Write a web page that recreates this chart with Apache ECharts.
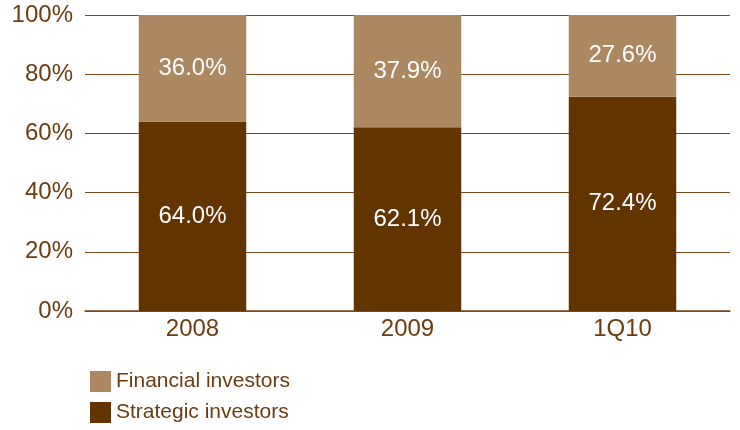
<!DOCTYPE html>
<html>
<head>
<meta charset="utf-8">
<script src="https://cdn.jsdelivr.net/npm/echarts@6/dist/echarts.min.js"></script>
<style>
  html, body { margin: 0; padding: 0; background: #ffffff; }
  #chart { width: 740px; height: 430px; }
</style>
</head>
<body>
<div id="chart"></div>
<script>
// Investor mix by period (share of deal value, %)
const categories = ['2008', '2009', '1Q10'];
const strategicInvestors = [64.0, 62.1, 72.4];
const financialInvestors = [36.0, 37.9, 27.6];
const yTicks = [0, 20, 40, 60, 80, 100];

const textColor = '#6b3d10';
const lineColor = '#7a4a1c';
const darkBrown = '#623400';
const lightBrown = '#ac8862';
const font = '"Liberation Sans", Arial, Helvetica, sans-serif';

const chart = echarts.init(document.getElementById('chart'));

const labelStyle = {
  show: true,
  position: 'inside',
  color: '#ffffff',
  fontSize: 24,
  fontFamily: font,
  padding: [4, 0, 0, 0],
  formatter: p => p.value.toFixed(1) + '%'
};

// One legend entry per row, stacked under the plot
function legendRow(name, top) {
  return {
    orient: 'vertical',
    left: 85,
    top: top,
    itemWidth: 21,
    itemHeight: 21,
    itemGap: 10,
    icon: 'rect',
    textStyle: { color: textColor, fontSize: 21, fontFamily: font },
    data: [name]
  };
}

chart.setOption({
  animation: false,
  grid: { left: 85, right: 10, top: 15, bottom: 119, containLabel: false },
  legend: [
    legendRow('Financial investors', 366),
    legendRow('Strategic investors', 397)
  ],
  xAxis: {
    type: 'category',
    data: categories,
    axisLine: { show: true, lineStyle: { color: lineColor, width: 1.5 } },
    axisTick: { show: false },
    axisLabel: { color: textColor, fontSize: 24, fontFamily: font, margin: 6 }
  },
  yAxis: {
    type: 'value',
    min: yTicks[0],
    max: yTicks[yTicks.length - 1],
    interval: 20,
    axisLine: { show: false },
    axisTick: { show: false },
    splitLine: { lineStyle: { color: lineColor, width: 1 } },
    axisLabel: {
      color: textColor, fontSize: 24, fontFamily: font, margin: 12,
      padding: [5, 0, 0, 0],
      formatter: v => v + '%'
    }
  },
  series: [
    {
      name: 'Strategic investors',
      type: 'bar',
      stack: 'total',
      barWidth: '50%',
      data: strategicInvestors,
      itemStyle: { color: darkBrown },
      label: labelStyle,
      z: 3
    },
    {
      name: 'Financial investors',
      type: 'bar',
      stack: 'total',
      barWidth: '50%',
      data: financialInvestors,
      itemStyle: { color: lightBrown },
      label: labelStyle,
      z: 3
    }
  ]
});
</script>
</body>
</html>
